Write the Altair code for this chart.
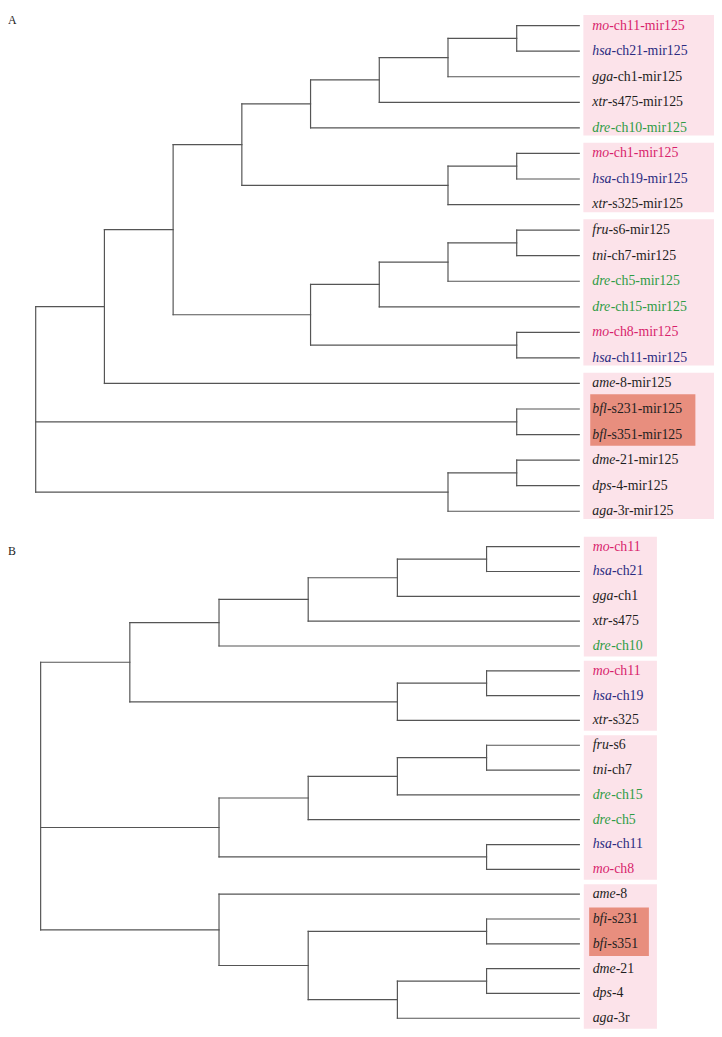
import altair as alt
import pandas as pd

# ---------------- data ----------------
labels_a = ["mo-ch11-mir125", "hsa-ch21-mir125", "gga-ch1-mir125", "xtr-s475-mir125", "dre-ch10-mir125",
            "mo-ch1-mir125", "hsa-ch19-mir125", "xtr-s325-mir125", "fru-s6-mir125", "tni-ch7-mir125",
            "dre-ch5-mir125", "dre-ch15-mir125", "mo-ch8-mir125", "hsa-ch11-mir125", "ame-8-mir125",
            "bfl-s231-mir125", "bfl-s351-mir125", "dme-21-mir125", "dps-4-mir125", "aga-3r-mir125"]
labels_b = ["mo-ch11", "hsa-ch21", "gga-ch1", "xtr-s475", "dre-ch10", "mo-ch11", "hsa-ch19", "xtr-s325",
            "fru-s6", "tni-ch7", "dre-ch15", "dre-ch5", "hsa-ch11", "mo-ch8", "ame-8", "bfi-s231",
            "bfi-s351", "dme-21", "dps-4", "aga-3r"]

# internal nodes (children listed before parents); ints are leaf indices
node_names_a = ["a1", "a2", "a3", "a4", "a5", "a6", "a7", "a8", "a9", "a10", "a11", "a12", "a13", "a14",
                "a15", "a16", "a17", "rootA"]
node_children_a = [[0, 1], ["a1", 2], ["a2", 3], ["a3", 4], [5, 6], ["a5", 7], ["a4", "a6"], [8, 9],
                   ["a8", 10], ["a9", 11], [12, 13], ["a10", "a11"], ["a7", "a12"], ["a13", 14], [15, 16],
                   [17, 18], ["a16", 19], ["a14", "a15", "a17"]]
node_levels_a = [7, 6, 5, 4, 7, 6, 3, 7, 6, 5, 7, 4, 2, 1, 7, 7, 6, 0]
tip_level_a = 7.91

node_names_b = ["b1", "b2", "b3", "b4", "b5", "b6", "b7", "b8", "b9", "b10", "b11", "b12", "b13", "b14",
                "b15", "b16", "b17", "rootB"]
node_children_b = [[0, 1], ["b1", 2], ["b2", 3], ["b3", 4], [5, 6], ["b5", 7], ["b4", "b6"], [8, 9],
                   ["b8", 10], ["b9", 11], [12, 13], ["b10", "b11"], [15, 16], [17, 18], ["b14", 19],
                   ["b13", "b15"], [14, "b16"], ["b7", "b12", "b17"]]
node_levels_b = [5, 4, 3, 2, 5, 4, 1, 5, 4, 3, 5, 2, 5, 5, 4, 3, 2, 0]
tip_level_b = 6.04

groups_a = [[0, 4], [5, 7], [8, 13], [14, 19]]
highlight_a = [15, 16]
groups_b = [[0, 4], [5, 7], [8, 13], [14, 19]]
highlight_b = [15, 16]

color_keys = ["mo", "hsa", "dre", "other"]
color_vals = ["#d81f6c", "#2b2b80", "#2f9c45", "#1e1e1e"]

# ---------------- style / layout ----------------
FONT = "Liberation Serif"
FS = 14
W = 714
HA = 515
HB = 506
ITALIC_W = {"a": .5, "b": .5, "c": .444, "d": .5, "e": .444, "f": .278, "g": .5, "h": .5, "i": .278,
            "l": .278, "m": .722, "n": .5, "o": .5, "p": .5, "r": .389, "s": .389, "t": .278, "u": .5,
            "x": .444}

LAYOUT_A = dict(xdom=[-0.403, 9.871], ydom=[-0.4255, 19.497], lab_x=8.10, box_x=[7.97, 9.871],
                pad=[0.42, 0.30], hl_x=[8.07, 9.60], hl_pad=[0.58, 0.44], letter_y=-0.4255,
                letter_base="top", H=HA)
LAYOUT_B = dict(xdom=[-0.366, 7.55], ydom=[-0.916, 19.243], lab_x=6.19, box_x=[6.09, 6.91],
                pad=[0.40, 0.42], hl_x=[6.15, 6.82], hl_pad=[0.46, 0.49], letter_y=0.16,
                letter_base="middle", H=HB)


def tree_segments(n_leaves, names, children, levels, tip):
    ypos = {i: float(i) for i in range(n_leaves)}
    xpos = {i: tip for i in range(n_leaves)}
    segs = []
    for name, ch, lv in zip(names, children, levels):
        ys = [ypos[c] for c in ch]
        ypos[name] = (min(ys) + max(ys)) / 2
        xpos[name] = lv
        segs.append(dict(x=lv, x2=lv, y=min(ys), y2=max(ys)))
        for c in ch:
            segs.append(dict(x=lv, x2=xpos[c], y=ypos[c], y2=ypos[c]))
    return pd.DataFrame(segs)


def panel(labels, names, children, levels, tip, groups, hl, letter, L):
    xs = alt.Scale(domain=L["xdom"], nice=False, zero=False)
    ys = alt.Scale(domain=L["ydom"], nice=False, zero=False, reverse=True)
    cs = alt.Scale(domain=color_keys, range=color_vals)
    unit_per_px = (L["xdom"][1] - L["xdom"][0]) / W

    seg_df = tree_segments(len(labels), names, children, levels, tip)
    box_df = pd.DataFrame([dict(x=L["box_x"][0], x2=L["box_x"][1], y=g[0] - L["pad"][0],
                                y2=g[1] + L["pad"][1]) for g in groups])
    hl_df = pd.DataFrame([dict(x=L["hl_x"][0], x2=L["hl_x"][1], y=hl[0] - L["hl_pad"][0],
                               y2=hl[1] + L["hl_pad"][1])])
    rows = []
    for i, lab in enumerate(labels):
        pre = lab.split("-")[0]
        off_px = sum(ITALIC_W[c] for c in pre) * FS
        rows.append(dict(x=L["lab_x"], xs=L["lab_x"] + off_px * unit_per_px, y=i, pre=pre,
                         suf=lab[len(pre):], sp=pre if pre in color_keys else "other"))
    lab_df = pd.DataFrame(rows)
    let_df = pd.DataFrame([dict(x=L["xdom"][0], y=L["letter_y"], t=letter)])

    X = alt.X("x:Q", scale=xs, axis=None)
    Y = alt.Y("y:Q", scale=ys, axis=None)

    boxes = alt.Chart(box_df).mark_rect(color="#fce3ea").encode(
        x=X, x2=alt.X2("x2:Q"), y=Y, y2=alt.Y2("y2:Q"))
    hlbox = alt.Chart(hl_df).mark_rect(color="#e88e7e").encode(
        x=X, x2=alt.X2("x2:Q"), y=Y, y2=alt.Y2("y2:Q"))
    rules = alt.Chart(seg_df).mark_rule(color="#555555", strokeWidth=1.2, strokeCap="square").encode(
        x=X, x2=alt.X2("x2:Q"), y=Y, y2=alt.Y2("y2:Q"))
    col = alt.Color("sp:N", scale=cs, legend=None)
    pre_t = alt.Chart(lab_df).mark_text(align="left", baseline="middle", font=FONT, fontSize=FS,
                                        fontStyle="italic").encode(x=X, y=Y, text="pre:N", color=col)
    suf_t = alt.Chart(lab_df).mark_text(align="left", baseline="middle", font=FONT, fontSize=FS).encode(
        x=alt.X("xs:Q", scale=xs, axis=None), y=Y, text="suf:N", color=col)
    let_t = alt.Chart(let_df).mark_text(align="left", baseline=L["letter_base"], font=FONT,
                                        fontSize=12, color="#222222").encode(x=X, y=Y, text="t:N")
    return alt.layer(boxes, hlbox, rules, pre_t, suf_t, let_t).properties(width=W, height=L["H"])


pa = panel(labels_a, node_names_a, node_children_a, node_levels_a, tip_level_a, groups_a, highlight_a,
           "A", LAYOUT_A)
pb = panel(labels_b, node_names_b, node_children_b, node_levels_b, tip_level_b, groups_b, highlight_b,
           "B", LAYOUT_B)

chart = alt.vconcat(pa, pb, spacing=0).resolve_scale(x="independent", y="independent").properties(
    padding=0).configure_view(stroke=None)

chart.save("out.html", embed_options={"renderer": "svg", "actions": False})
